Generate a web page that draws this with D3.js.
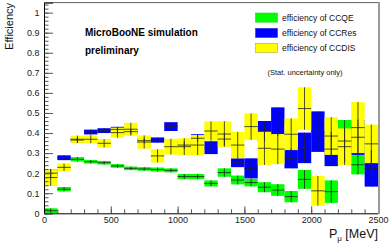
<!DOCTYPE html>
<html>
<head>
<meta charset="utf-8">
<script src="https://cdn.jsdelivr.net/npm/d3@7"></script>
<style>
  body { margin: 0; background: #fff; }
  svg { display: block; font-family: "Liberation Sans", Arial, Helvetica, sans-serif; }
</style>
</head>
<body>
<svg id="chart" width="391" height="244"></svg>
<script>
// bin edges in MeV (100 MeV bins)
var binEdges = [0, 100, 200, 300, 400, 500, 600, 700, 800, 900, 1000, 1100, 1200,
                1300, 1400, 1500, 1600, 1700, 1800, 1900, 2000, 2100, 2200, 2300, 2400, 2500];

// efficiency per bin, null = empty bin
var ccqe     = [0.013, 0.120, 0.269, 0.257, 0.252, 0.236, 0.224, 0.221, 0.218, 0.214, 0.183, 0.183, 0.149,
                0.203, 0.166, 0.153, 0.130, 0.116, 0.083, 0.169, null, 0.108, 0.360, 0.242, null];
var ccqeErr  = [0.012, 0.011, 0.011, 0.009, 0.009, 0.009, 0.009, 0.009, 0.010, 0.010, 0.013, 0.013, 0.015,
                0.021, 0.022, 0.019, 0.025, 0.029, 0.028, 0.047, null, 0.056, 0.105, 0.048, null];

var ccres    = [0.200, 0.277, 0.365, 0.405, 0.412, 0.418, 0.407, 0.362, 0.365, 0.432, 0.340, 0.374, 0.327,
                0.370, 0.252, 0.224, 0.410, 0.457, 0.274, 0.326, 0.407, 0.320, null, 0.379, 0.224];
var ccresErr = [0.020, 0.012, 0.012, 0.012, 0.012, 0.013, 0.013, 0.013, 0.013, 0.022, 0.020, 0.020, 0.032,
                0.030, 0.022, 0.050, 0.050, 0.071, 0.050, 0.076, 0.101, 0.085, null, 0.088, 0.091];

var ccdis    = [0.178, 0.229, 0.369, 0.369, 0.349, 0.402, 0.419, 0.355, 0.286, 0.332, 0.332, 0.340, 0.410,
                0.395, 0.340, 0.432, 0.324, 0.320, 0.394, 0.522, 0.112, 0.385, 0.332, 0.427, 0.346];
var ccdisErr = [0.042, 0.019, 0.018, 0.020, 0.021, 0.025, 0.032, 0.033, 0.033, 0.039, 0.042, 0.050, 0.048,
                0.064, 0.066, 0.066, 0.083, 0.075, 0.079, 0.106, 0.074, 0.094, 0.091, 0.127, 0.096];

var xTicks = [0, 500, 1000, 1500, 2000, 2500];
var yTicks = [0, 0.1, 0.2, 0.3, 0.4, 0.5, 0.6, 0.7, 0.8, 0.9, 1];
var yTickLabels = ["0", "0.1", "0.2", "0.3", "0.4", "0.5", "0.6", "0.7", "0.8", "0.9", "1"];

var seriesNames = ["efficiency of CCQE", "efficiency of CCRes", "efficiency of CCDIS"];
var seriesColors = ["#00ff00", "#0000ff", "#ffff00"];
var seriesEdge = ["#3c3", "#33c", "#aa3"];

var svg = d3.select("#chart");

var x = d3.scaleLinear().domain([0, 2500]).range([44, 378]);
var y = d3.scaleLinear().domain([0, 1.05]).range([213.3, 2.6]);

function toBins(vals, errs) {
    var out = [];
    for (var i = 0; i < vals.length; i++) {
        if (vals[i] === null) continue;
        out.push({lo: binEdges[i], hi: binEdges[i + 1], v: vals[i], e: errs[i]});
    }
    return out;
}

// draw order: green, blue, yellow (yellow on top)
var series = [toBins(ccqe, ccqeErr), toBins(ccres, ccresErr), toBins(ccdis, ccdisErr)];

series.forEach(function(s, k) {
    var g = svg.append("g");
    g.selectAll("rect").data(s).enter().append("rect")
        .attr("x", function(d) { return x(d.lo); })
        .attr("width", function(d) { return x(d.hi) - x(d.lo); })
        .attr("y", function(d) { return y(d.v + d.e); })
        .attr("height", function(d) { return y(d.v - d.e) - y(d.v + d.e); })
        .attr("fill", seriesColors[k]);
});

// error crosses on top of the boxes
series.forEach(function(s, k) {
    var g = svg.append("g").attr("stroke", "#222").attr("stroke-width", 0.8);
    g.selectAll("line.h").data(s).enter().append("line")
        .attr("x1", function(d) { return x(d.lo); })
        .attr("x2", function(d) { return x(d.hi); })
        .attr("y1", function(d) { return y(d.v); })
        .attr("y2", function(d) { return y(d.v); });
    g.selectAll("line.v").data(s).enter().append("line")
        .attr("x1", function(d) { return x((d.lo + d.hi) / 2); })
        .attr("x2", function(d) { return x((d.lo + d.hi) / 2); })
        .attr("y1", function(d) { return y(d.v - d.e); })
        .attr("y2", function(d) { return y(d.v + d.e); });
});

// axes
var xMinor = d3.range(0, 2501, 100);
var yMinor = d3.range(0, 1.05, 0.02);

svg.append("g").attr("transform", "translate(0,213.3)")
    .call(d3.axisBottom(x).tickValues(xMinor).tickSize(-4).tickFormat(""))
    .call(function(g) { g.select(".domain").remove(); g.selectAll("line").attr("stroke", "#555"); });
var xa = svg.append("g").attr("transform", "translate(0,213.3)")
    .call(d3.axisBottom(x).tickValues(xTicks).tickSize(-7).tickPadding(3.5).tickFormat(d3.format("d")));
xa.select(".domain").attr("stroke", "#000");
xa.selectAll("line").attr("stroke", "#555");
xa.selectAll("text").attr("font-size", "9px").attr("fill", "#222").attr("font-family", null);

svg.append("g").attr("transform", "translate(44,0)")
    .call(d3.axisLeft(y).tickValues(yMinor).tickSize(-4.5).tickFormat(""))
    .call(function(g) { g.select(".domain").remove(); g.selectAll("line").attr("stroke", "#555"); });
var ya = svg.append("g").attr("transform", "translate(44,0)")
    .call(d3.axisLeft(y).tickValues(yTicks).tickSize(-9).tickPadding(4.5)
        .tickFormat(function(d, i) { return yTickLabels[i]; }));
ya.select(".domain").attr("stroke", "#000");
ya.selectAll("line").attr("stroke", "#555");
ya.selectAll("text").attr("font-size", "9px").attr("fill", "#222").attr("font-family", null);

// frame top / right
svg.append("line").attr("x1", 44).attr("x2", 378).attr("y1", 2.6).attr("y2", 2.6)
    .attr("stroke", "#333").attr("stroke-width", 0.8);
svg.append("line").attr("x1", 379).attr("x2", 379).attr("y1", 2).attr("y2", 214)
    .attr("stroke", "#999").attr("stroke-width", 2);

// axis titles
svg.append("text").attr("transform", "translate(12.5,3) rotate(-90)")
    .attr("text-anchor", "end").attr("font-size", "11px").attr("fill", "#111").text("Efficiency");

var xt = svg.append("text").attr("x", 378).attr("y", 238).attr("text-anchor", "end")
    .attr("font-size", "12.5px").attr("fill", "#111");
xt.append("tspan").text("P");
xt.append("tspan").attr("dy", 3).attr("font-size", "8px").text("\u03bc");
xt.append("tspan").attr("dy", -3).text(" [MeV]");

// text on the plot
svg.append("text").attr("x", 85).attr("y", 35.7).attr("font-size", "10px")
    .attr("font-weight", "bold").text("MicroBooNE simulation");
svg.append("text").attr("x", 85).attr("y", 54).attr("font-size", "10px")
    .attr("font-weight", "bold").text("preliminary");

// legend
var legY = [13, 28.3, 43.3];
var leg = svg.append("g");
seriesNames.forEach(function(name, k) {
    leg.append("rect").attr("x", 255.5).attr("y", legY[k]).attr("width", 22).attr("height", 9.2)
        .attr("fill", seriesColors[k]).attr("stroke", seriesEdge[k]).attr("stroke-width", 0.6);
    leg.append("text").attr("x", 282).attr("y", legY[k] + 7.5).attr("font-size", "8.5px")
        .attr("fill", "#111").text(name);
});
svg.append("text").attr("x", 267.5).attr("y", 74.5).attr("font-size", "7.5px")
    .attr("fill", "#111").text("(Stat. uncertainty only)");
</script>
</body>
</html>
